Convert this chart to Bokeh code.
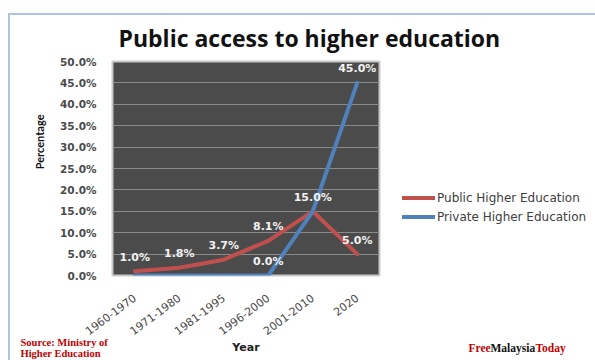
import math
from bokeh.plotting import figure
from bokeh.models import (ColumnDataSource, Legend, LegendItem, FixedTicker,
                          PrintfTickFormatter, Range1d, Title)
from bokeh.embed import file_html
from bokeh.resources import INLINE

# ---- data ----
periods = ["1960-1970", "1971-1980", "1981-1995", "1996-2000", "2001-2010", "2020"]
public_pct = [1.0, 1.8, 3.7, 8.1, 15.0, 5.0]
private_pct = [0.0, 0.0, 0.0, 0.0, 15.0, 45.0]
public_labels = ["1.0%", "1.8%", "3.7%", "8.1%", "15.0%", "5.0%"]
private_labels = ["", "", "", "0.0%", "", "45.0%"]
y_ticks = [0, 5, 10, 15, 20, 25, 30, 35, 40, 45, 50]

RED = "#c0504d"
BLUE = "#4f81bd"

# page geometry: figure placed at (8,13) via margin, frame at x 112..379, y 60..274
MX, MY = 8, 13
FL, FR, FT, FB = 112, 379, 60, 274

p = figure(x_range=periods, y_range=Range1d(0, 50),
           frame_width=FR - FL, frame_height=FB - FT,
           output_backend="svg", toolbar_location=None,
           min_border_left=FL - MX, min_border_right=595 - FR,
           min_border_top=FT - MY, min_border_bottom=360 - FB)
p.margin = (MY, 0, 0, MX)
p.styles = {"box-shadow": "inset 2px 2px 0 #a9c4e4"}
p.border_fill_alpha = 0
p.background_fill_color = "#4b4b4b"
p.outline_line_color = "#c8c8c8"
p.outline_line_width = 2

# title
p.title.text = "Public access to higher education"
p.title.align = "left"
p.title.offset = 6
p.title.vertical_align = "middle"
p.title.standoff = 14
p.title.text_font = "Open Sans"
p.title.text_font_style = "bold"
p.title.text_font_size = "23px"
p.title.text_color = "#111111"

src_pub = ColumnDataSource(dict(x=periods, y=public_pct, t=public_labels))
src_pri = ColumnDataSource(dict(x=periods, y=private_pct, t=private_labels))

r_pub = p.line("x", "y", source=src_pub, line_color=RED, line_width=4, line_cap="round")
r_pri = p.line("x", "y", source=src_pri, line_color=BLUE, line_width=4, line_cap="round")

for s in (src_pub, src_pri):
    p.text("x", "y", text="t", source=s, text_color="#f2f2f2",
           text_font={"value": "DejaVu Sans"}, text_font_style="bold",
           text_font_size="11px", text_align="center", text_baseline="middle",
           y_offset=-14)

# axes
p.yaxis.ticker = FixedTicker(ticks=y_ticks)
p.yaxis.formatter = PrintfTickFormatter(format="%.1f%%")
for ax in (p.xaxis[0], p.yaxis[0]):
    ax.axis_line_color = None
    ax.major_tick_line_color = None
    ax.minor_tick_line_color = None
    ax.major_label_text_font = "DejaVu Sans"
    ax.major_label_text_color = "#4a4a4a"
p.yaxis.major_label_text_font_style = "bold"
p.yaxis.major_label_text_font_size = "10.5px"
p.xaxis.major_label_text_font_size = "11px"
p.xaxis.major_label_orientation = 0.64
p.yaxis.major_label_standoff = 10
p.xaxis.major_label_standoff = 15
p.xgrid.grid_line_color = None
p.ygrid.grid_line_color = "#8a8a8a"
p.ygrid.grid_line_width = 1

# y axis title (side title so it can sit above centre like the original)
ytitle = Title(text="Percentage", align="right", offset=53, vertical_align="middle",
               standoff=21, text_font="Lato", text_font_style="bold",
               text_font_size="11px", text_color="#111111")
p.add_layout(ytitle, "left")

# legend, to the right of the plot area
legend = Legend(items=[LegendItem(label="Public Higher Education", renderers=[r_pub]),
                       LegendItem(label="Private Higher Education", renderers=[r_pri])],
                location=(402 - FR, 49), orientation="vertical",
                background_fill_alpha=0, border_line_color=None,
                padding=0, margin=0, spacing=0, glyph_width=33, glyph_height=19,
                label_height=19, label_standoff=2,
                label_text_font="DejaVu Sans", label_text_font_size="12px",
                label_text_color="#404040")
p.add_layout(legend, "right")

# small spacer below the tick labels, then zero-height notes sharing one baseline row
spacer = Title(text=" ", standoff=-7, text_font="DejaVu Sans", text_font_size="10px",
               text_color="#ffffff")
p.add_layout(spacer, "below")

def note(text, size, color, line_h, font="Liberation Serif", left_x=None):
    kw = dict(align="center") if left_x is None else dict(align="left", offset=left_x - FL)
    t = Title(text=text, vertical_align="middle", standoff=-(2 + line_h),
              text_font=font, text_font_style="bold",
              text_font_size=size, text_color=color, **kw)
    p.add_layout(t, "below")

note("Year", "11px", "#222222", 13, font="DejaVu Sans")
note("Source: Ministry of\nHigher Education", "10.5px", "#c00000", 25, left_x=20)
note("Free", "11.5px", "#c00000", 13, left_x=468)
note("Malaysia", "11.5px", "#111111", 13, left_x=490)
note("Today", "11.5px", "#c00000", 13, left_x=535)

open("out.html", "w").write(file_html(p, INLINE))
